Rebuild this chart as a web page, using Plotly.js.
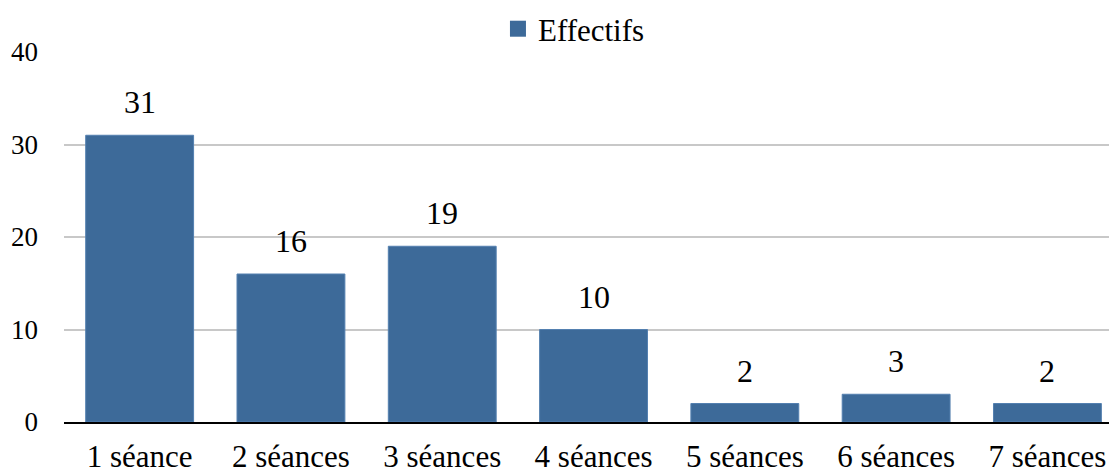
<!DOCTYPE html>
<html><head><meta charset="utf-8">
<script src="https://cdn.plot.ly/plotly-3.0.1.min.js"></script>
<style>html,body{margin:0;padding:0;background:#fff}</style>
</head><body>
<div id="chart" style="width:1109px;height:473px"></div>
<script>
const categories = ["1 séance","2 séances","3 séances","4 séances","5 séances","6 séances","7 séances"];
const effectifs = [31,16,19,10,2,3,2];
const yTicks = [0,10,20,30,40];
const seriesName = "Effectifs";
const barColor = "#3D6A99";

const FONT = "Liberation Serif";
const trace = {
  type: "bar",
  name: seriesName,
  x: categories,
  y: effectifs,
  marker: {color: barColor, line: {color: "#5480B0", width: 1}},
  showlegend: false
};
const legendTrace = {
  type: "scatter", mode: "markers", name: seriesName,
  x: [null], y: [null],
  marker: {symbol: "square", size: 17, color: barColor},
  showlegend: true
};
const annotations = categories.map((c, i) => ({
  x: c, y: effectifs[i], xref: "x", yref: "y",
  text: String(effectifs[i]), showarrow: false,
  yanchor: "bottom", yshift: 13,
  font: {family: FONT, size: 32, color: "#000"}
}));
const layout = {
  width: 1109, height: 473,
  margin: {l: 64, r: 0, t: 52, b: 50.5, pad: 0},
  paper_bgcolor: "#fff", plot_bgcolor: "#fff",
  bargap: 0.287,
  showlegend: true,
  font: {family: FONT, color: "#000"},
  legend: {orientation: "h", x: 0.488, xanchor: "center", y: 1.062, yanchor: "middle",
           font: {family: FONT, size: 31, color: "#000"}, itemwidth: 30},
  xaxis: {
    range: [-0.5, 6.407], type: "category",
    showline: true, linecolor: "#000", linewidth: 2,
    showgrid: false, ticks: "", fixedrange: true, ticklabelstandoff: 6,
    tickfont: {family: FONT, size: 31, color: "#000"}
  },
  yaxis: {
    range: [0, 40], tickvals: yTicks, ticktext: yTicks.map(String),
    showgrid: true, gridcolor: "#C8C8C8", gridwidth: 2,
    zeroline: false, showline: false, ticks: "", ticklabelstandoff: 25,
    tickfont: {family: FONT, size: 27, color: "#000"}
  },
  annotations: annotations
};
Plotly.newPlot("chart", [trace, legendTrace], layout, {displayModeBar: false, staticPlot: true});
</script>
</body></html>
